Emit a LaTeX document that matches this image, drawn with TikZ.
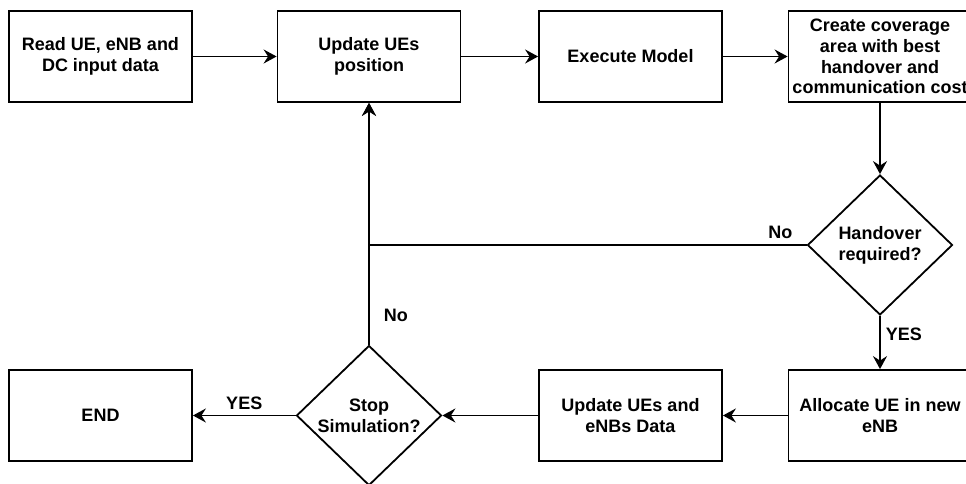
\documentclass[tikz,border=0pt]{standalone}
\usepackage{fontspec}
\setmainfont{Liberation Sans}
\usetikzlibrary{arrows.meta,shapes.geometric}

\begin{document}
\begin{tikzpicture}[->,>={Stealth[length=13pt,width=14pt,inset=4.5pt]},x=1pt,y=-1pt,
                    line width=1.8pt,font=\bfseries\fontsize{18}{20.7}\selectfont]
  \tikzstyle{block}=[draw, rectangle, minimum width=183pt, minimum height=91pt,
                     inner sep=0pt, align=center]
  \tikzstyle{decision}=[draw, diamond, minimum width=145pt, minimum height=140pt,
                        inner sep=0pt, align=center]
  \tikzstyle{lab}=[inner sep=5pt, text=black]

  \useasboundingbox (0,0) rectangle (966,484);

  \node[block]    (read)  at (100.5,56.5)  {Read UE, eNB and\\DC input data};
  \node[block]    (upd)   at (369,56.5)    {Update UEs\\position};
  \node[block]    (exec)  at (630.5,56.5)  {Execute Model};
  \node[block]    (cover) at (880,56.5)    {Create coverage\\area with best\\handover and\\communication cost};
  \node[decision] (ho)    at (880,245)     {Handover\\required?};
  \node[block]    (alloc) at (880,415.5)   {Allocate UE in new\\eNB};
  \node[block]    (upd2)  at (630.5,415.5) {Update UEs and\\eNBs Data};
  \node[decision] (stop)  at (369,415.5)   {Stop\\Simulation?};
  \node[block]    (end)   at (100.5,415.5) {END};

  \path (read)  edge (upd)
        (upd)   edge (exec)
        (exec)  edge (cover)
        (cover) edge (ho)
        (ho)    edge node[lab,right,pos=0.35] {YES} (alloc)
        (alloc) edge (upd2)
        (upd2)  edge (stop)
        (stop)  edge node[lab,above] {YES} (end);

  \draw (ho.west) -| node[lab,above,pos=0.03] {No} (upd.south);
  \draw (stop) -- node[lab,right,pos=0.12,xshift=9pt] {No} (upd);
\end{tikzpicture}
\end{document}
